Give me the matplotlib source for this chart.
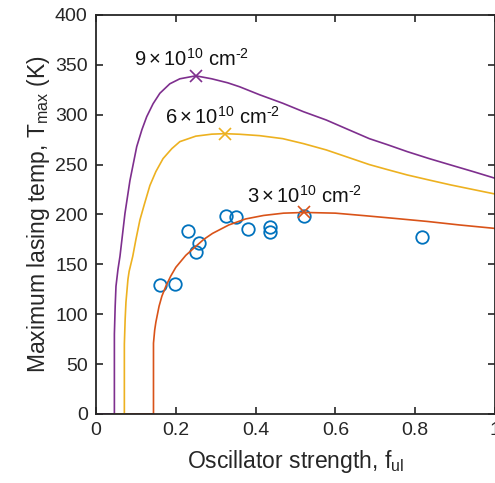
import matplotlib
matplotlib.use('Agg')
import matplotlib.pyplot as plt

plt.rcParams['font.family'] = ['Liberation Sans', 'DejaVu Sans']
plt.rcParams['mathtext.fontset'] = 'custom'
plt.rcParams['mathtext.rm'] = 'Liberation Sans'
plt.rcParams['mathtext.it'] = 'Liberation Sans'

# measured devices
f_meas = [0.16, 0.1975, 0.231, 0.25, 0.258, 0.325, 0.35, 0.38, 0.435, 0.435, 0.5225, 0.818]
T_meas = [129, 130.3, 183.8, 162, 171.7, 198.8, 197, 185.5, 187.8, 182, 198.8, 177.4]

# model curves
f_9 = [0.0075, 0.046, 0.046, 0.048, 0.05, 0.055, 0.06, 0.0725, 0.085, 0.102, 0.115, 0.127,
       0.143, 0.16, 0.185, 0.21, 0.25, 0.29, 0.33, 0.36, 0.41, 0.468, 0.52, 0.577, 0.63,
       0.685, 0.73, 0.78, 0.835, 0.889, 0.945, 1.0]
T_9 = [0, 0, 80, 108, 128, 145, 158, 201, 234, 268, 285, 298,
       311, 321.5, 331, 336, 339, 336, 332, 328, 320, 311.5, 303, 294.7, 285.5,
       276, 270, 263, 256, 249.6, 243, 236.3]
f_6 = [0.0075, 0.071, 0.071, 0.073, 0.075, 0.08, 0.083, 0.092, 0.1, 0.11, 0.121, 0.135,
       0.15, 0.168, 0.19, 0.21, 0.25, 0.29, 0.323, 0.36, 0.41, 0.468, 0.52, 0.577, 0.63,
       0.685, 0.73, 0.78, 0.835, 0.889, 0.945, 1.0]
T_6 = [0, 0, 70, 95, 112, 135, 143, 158, 175, 194.5, 210, 229,
       243, 256, 266, 273, 278.5, 280.5, 281, 280.4, 279, 276, 271, 264.7, 257.5,
       250, 245, 239.6, 234.5, 229.6, 225, 220.5]
f_3 = [0.0075, 0.144, 0.144, 0.147, 0.15, 0.158, 0.165, 0.175, 0.187, 0.2, 0.225, 0.25,
       0.27, 0.292, 0.333, 0.375, 0.42, 0.47, 0.5225, 0.6, 0.6725, 0.75, 0.83, 0.91, 1.0]
T_3 = [0, 0, 71, 84, 92, 108, 118, 128, 138, 147, 159, 168,
       175, 181, 189.5, 195.5, 199, 201.3, 202, 201.3, 198.8, 196, 193, 189.5, 186]

peak_f = [0.25, 0.323, 0.5225]
peak_T = [339, 281, 202]
labels = [r'$9\times10^{10}$ cm$^{\text{-2}}$', r'$6\times10^{10}$ cm$^{\text{-2}}$',
          r'$3\times10^{10}$ cm$^{\text{-2}}$']
colors = ['#7E2F8E', '#EDB120', '#D95319']
label_x = [0.24, 0.3175, 0.522]

fig = plt.figure(figsize=(4.95, 4.83), dpi=100)
ax = fig.add_axes([0.194, 0.143, 0.806, 0.826])

ax.plot(f_meas, T_meas, 'o', mfc='none', mec='#0072BD', ms=9, mew=1.3)
ax.plot(f_3, T_3, color=colors[2], lw=1.2)
ax.plot(f_6, T_6, color=colors[1], lw=1.2)
ax.plot(f_9, T_9, color=colors[0], lw=1.2)

for i in range(3):
    ax.plot(peak_f[i], peak_T[i], 'x', color=colors[i], ms=9, mew=1.2)
    ax.text(label_x[i], peak_T[i] + 6, labels[i], ha='center', va='bottom',
            fontsize=14.5, color='#111111')

ax.set_xlim(0, 1)
ax.set_ylim(0, 400)
ax.set_xticks([0, 0.2, 0.4, 0.6, 0.8, 1])
ax.set_xticklabels(['0', '0.2', '0.4', '0.6', '0.8', '1'])
ax.set_yticks(range(0, 401, 50))
ax.tick_params(direction='in', top=True, right=True, length=5, width=1.2,
               labelsize=14, colors='#262626', pad=6)
for s in ax.spines.values():
    s.set_linewidth(1.3)
    s.set_color('#262626')
ax.set_xlabel(r'Oscillator strength, f$_{\rm ul}$', fontsize=16.5, color='#262626', labelpad=6)
ax.set_ylabel(r'Maximum lasing temp, T$_{\rm max}$ (K)', fontsize=16.5, color='#262626', labelpad=2)

fig.savefig('out.png', dpi=100)
